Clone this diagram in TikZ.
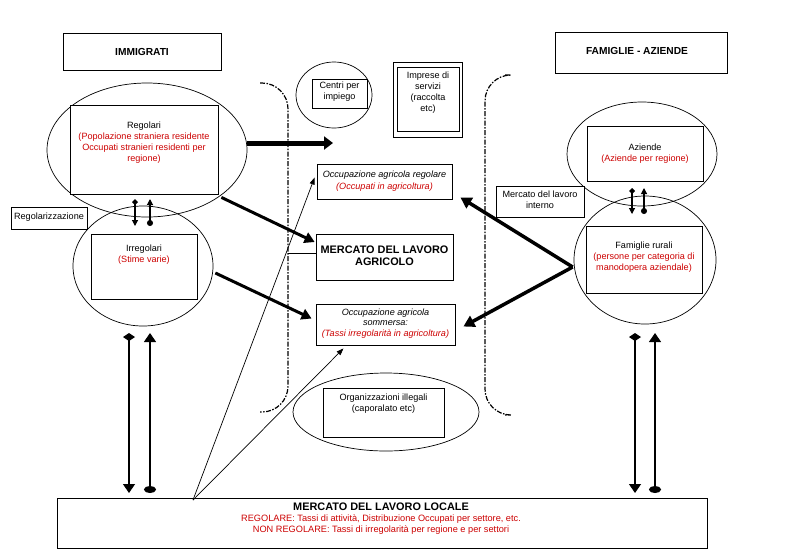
\documentclass[tikz,border=0pt]{standalone}
\usepackage{fontspec}
\setmainfont{Liberation Sans}
\usetikzlibrary{shapes.geometric,arrows.meta}
\definecolor{txtred}{RGB}{205,0,0}
\begin{document}
\begin{tikzpicture}[x=1pt,y=-1pt,
  box/.style={draw,line width=0.8pt,inner sep=0pt},
  ell/.style={draw,ellipse,line width=0.7pt,inner sep=0pt},
  txt/.style={align=center,inner sep=0pt,font=\fontsize{9.1}{11}\selectfont},
  ttl/.style={align=center,inner sep=0pt,font=\fontsize{10.2}{11}\selectfont\bfseries},
  bigttl/.style={align=center,inner sep=0pt,font=\fontsize{10.9}{12}\selectfont\bfseries},
  brk/.style={line width=1.2pt,dash pattern=on 5pt off 1.5pt on 1.5pt off 1.5pt,rounded corners=26pt},
  thickarr/.style={line width=3pt,-{Triangle[length=10pt,width=11pt]}},
  thinarr/.style={line width=0.7pt,-{Triangle[length=7pt,width=5pt]}},
  bigpairA/.style={line width=1.3pt,{Diamond[length=8pt,width=12pt]}-{Triangle[length=9pt,width=12pt]}},
  bigpairB/.style={line width=1.3pt,{Triangle[length=9pt,width=12pt]}-{Circle[length=7pt,width=12pt]}},
  smpairA/.style={line width=1.1pt,{Diamond[length=6pt,width=6pt]}-{Triangle[length=6pt,width=6pt]}},
  smpairB/.style={line width=1.1pt,{Triangle[length=6pt,width=6pt]}-{Circle[length=6pt,width=6pt]}}
]
\useasboundingbox[fill=white] (0,0) rectangle (786,558);

% title boxes
\node[box,minimum width=158pt,minimum height=37pt] (imm) at (142,51.5) {};
\node[ttl] (immT) at (142,51.5) {IMMIGRATI};
\node[box,minimum width=172pt,minimum height=41pt] (fam) at (641,52.5) {};
\node[ttl] (famT) at (637,51) {FAMIGLIE - AZIENDE};

% brackets
\draw[brk] (260,83) -- (288,83) -- (288,412) -- (260,412);
\draw[brk] (505,75) -- (485,75) -- (485,415) -- (505,415);

% left side
\node[ell,minimum width=200pt,minimum height=134pt] (regE) at (147,150) {};
\node[box,fill=white,minimum width=148pt,minimum height=89pt] (regB) at (144,149.5) {};
\node[txt] (regT) at (144,142.5) {Regolari\\ \textcolor{txtred}{(Popolazione straniera residente}\\ \textcolor{txtred}{Occupati stranieri residenti per}\\ \textcolor{txtred}{regione)}};

\node[ell,minimum width=140pt,minimum height=120pt] (irrE) at (143,266) {};
\node[box,minimum width=106pt,minimum height=65pt] (irrB) at (144,266.5) {};
\node[txt] (irrT) at (144,254.5) {Irregolari\\ \textcolor{txtred}{(Stime varie)}};

\node[box,minimum width=76pt,minimum height=22pt] (rgz) at (49,218) {};
\node[txt] (rgzT) at (49,217) {Regolarizzazione};

% centre
\node[ell,minimum width=76pt,minimum height=66pt] (cpiE) at (334,95) {};
\node[box,minimum width=55pt,minimum height=29pt] (cpiB) at (339.5,93.5) {};
\node[txt] (cpiT) at (339.5,91.5) {Centri per\\impiego};

\node[box,minimum width=69pt,minimum height=75pt] (impO) at (427.5,99.5) {};
\node[box,minimum width=62pt,minimum height=64pt] (impI) at (428,99) {};
\node[txt] (impT) at (428,93) {Imprese di\\servizi\\(raccolta\\etc)};

\node[box,minimum width=135pt,minimum height=35pt] (occR) at (384.5,181.5) {};
\node[txt,font=\fontsize{9.1}{11.5}\selectfont\itshape] (occRT) at (384.5,181) {Occupazione agricola regolare\\ \textcolor{txtred}{(Occupati in agricoltura)}};

\node[box,minimum width=137pt,minimum height=46pt] (agr) at (384.5,257) {};
\node[bigttl] (agrT) at (384.5,256) {MERCATO DEL LAVORO\\AGRICOLO};

\node[box,minimum width=139pt,minimum height=41pt] (somm) at (385.5,324.5) {};
\node[txt,font=\fontsize{9.1}{10.7}\selectfont\itshape] (sommT) at (385.5,323.5) {Occupazione agricola\\sommersa:\\ \textcolor{txtred}{(Tassi irregolarità in agricoltura)}};

\node[ell,minimum width=186pt,minimum height=78pt] (orgE) at (386,412) {};
\node[box,minimum width=121pt,minimum height=49pt] (orgB) at (383.5,412.5) {};
\node[txt] (orgT) at (383.5,403.5) {Organizzazioni illegali\\(caporalato etc)};

% right side
\node[ell,minimum width=150pt,minimum height=104pt] (azE) at (642,154) {};
\node[box,minimum width=116pt,minimum height=55pt] (azB) at (645,153.5) {};
\node[txt] (azT) at (645,153.5) {Aziende\\ \textcolor{txtred}{(Aziende per regione)}};

\node[ell,minimum width=142pt,minimum height=128pt] (frE) at (645,260) {};
\node[box,fill=white,minimum width=116pt,minimum height=67pt] (frB) at (644,259.5) {};
\node[txt] (frT) at (644,257) {Famiglie rurali\\ \textcolor{txtred}{(persone per categoria di}\\ \textcolor{txtred}{manodopera aziendale)}};

\node[box,fill=white,minimum width=88pt,minimum height=31pt] (mli) at (540,201.5) {};
\node[txt] (mliT) at (540,199.5) {Mercato del lavoro\\interno};

% bottom box
\node[box,minimum width=650pt,minimum height=50pt] (loc) at (382,523) {};
\node[bigttl] (locT) at (381,507) {MERCATO DEL LAVORO LOCALE};
\node[txt,font=\fontsize{9.2}{11}\selectfont,text=txtred] (locR) at (381,524.5) {REGOLARE: Tassi di attività, Distribuzione Occupati per settore, etc.\\NON REGOLARE: Tassi di irregolarità per regione e per settori};

% coordinates
\coordinate (thTip) at (333,143);
\coordinate (lc) at (193,500);
\coordinate (brkL) at (288,253);
\coordinate (La1) at (129,333); \coordinate (La2) at (129,493);
\coordinate (Lb1) at (150,333); \coordinate (Lb2) at (150,493);
\coordinate (Ra1) at (635,333); \coordinate (Ra2) at (635,493);
\coordinate (Rb1) at (655,333); \coordinate (Rb2) at (655,493);
\coordinate (sLa1) at (135,199); \coordinate (sLa2) at (135,226);
\coordinate (sLb1) at (150,199); \coordinate (sLb2) at (150,226);
\coordinate (sRa1) at (632,188); \coordinate (sRa2) at (632,214);
\coordinate (sRb1) at (644,188); \coordinate (sRb2) at (644,214);

% connectors
\draw[line width=5pt,-{Triangle[length=9pt,width=13pt]}] ([yshift=7pt]regE.east) -- (thTip);
\draw[thickarr] ([xshift=3pt,yshift=-3pt]regB.south east) -- ([xshift=-1pt,yshift=15pt]agr.west);
\draw[thickarr] ([xshift=2pt,yshift=-7pt]irrE.east) -- ([xshift=-4pt,yshift=6pt]somm.west);
\draw[line width=3.5pt,-{Triangle[length=11pt,width=12pt]}] ([xshift=-1pt,yshift=-7pt]frE.west) -- ([xshift=8pt,yshift=2pt]occR.south east);
\draw[line width=3.5pt,-{Triangle[length=11pt,width=12pt]}] ([xshift=-1pt,yshift=-7pt]frE.west) -- ([xshift=8pt,yshift=-2pt]somm.east);
\draw[thinarr] (lc) -- ([xshift=-2pt,yshift=4pt]occR.west);
\draw[thinarr] (lc) -- ([xshift=-42pt,yshift=-3pt]somm.south);
\draw[line width=0.7pt] ([yshift=4pt]agr.west) -- (brkL);

\draw[bigpairA] (La1) -- (La2);
\draw[bigpairB] (Lb1) -- (Lb2);
\draw[bigpairA] (Ra1) -- (Ra2);
\draw[bigpairB] (Rb1) -- (Rb2);
\draw[smpairA] (sLa1) -- (sLa2);
\draw[smpairB] (sLb1) -- (sLb2);
\draw[smpairA] (sRa1) -- (sRa2);
\draw[smpairB] (sRb1) -- (sRb2);
\end{tikzpicture}
\end{document}
